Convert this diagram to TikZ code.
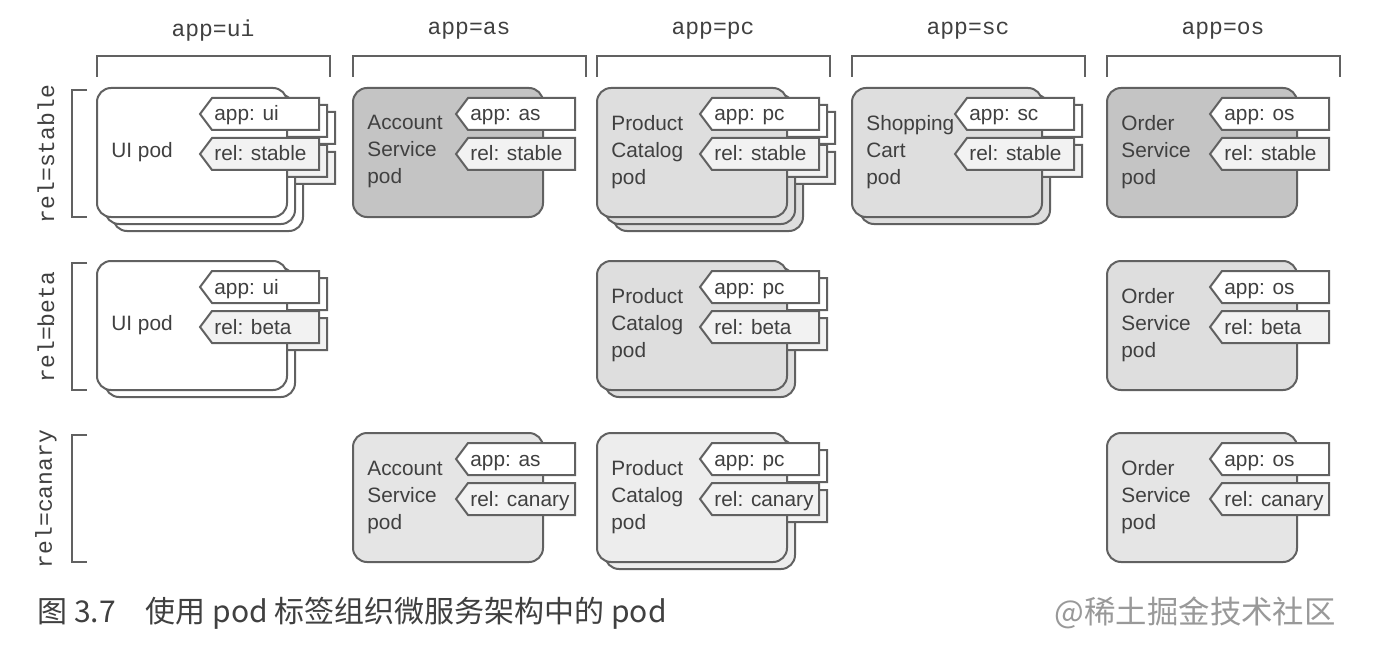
\documentclass[tikz,border=0pt]{standalone}
\usepackage{fontspec}
\setmainfont{Liberation Sans}
\setmonofont{Liberation Mono}
\newfontfamily\cjk{Noto Sans CJK SC}

\definecolor{edge}{gray}{0.38}
\definecolor{ink}{gray}{0.25}
\definecolor{darkpod}{gray}{0.77}
\definecolor{midpod}{gray}{0.87}
\definecolor{lightpod}{gray}{0.90}
\definecolor{palepod}{gray}{0.93}
\definecolor{reltag}{gray}{0.95}

\tikzset{
  podcard/.style={draw=edge, line width=1pt, rounded corners=7pt},
  tagbox/.style={draw=edge, line width=1pt, line join=miter},
  podtext/.style={anchor=west, align=left, inner sep=0pt, text=ink,
    font=\fontsize{10.4}{13.5}\selectfont},
  tagtext/.style={anchor=base west, inner sep=0pt, text=ink,
    font=\fontsize{10.4}{12}\selectfont},
  hdr/.style={text=ink, font=\ttfamily\fontsize{11.5}{13}\selectfont},
  bracket/.style={draw=edge, line width=1pt}
}

% #1 name, #2 left, #3 top, #4 fill, #5 copies, #6 text, #7 app tag, #8 rel tag
\newcommand{\pod}[8]{%
  \foreach \k in {#5} {
    \begin{scope}[shift={(\k*8,\k*7)}]
      \draw[podcard, fill=#4] (#2,#3) rectangle ++(190,129);
      \draw[tagbox, fill=white] (#2+103,#3+26) -- (#2+115,#3+10) -- (#2+222,#3+10)
        -- (#2+222,#3+42) -- (#2+115,#3+42) -- cycle;
      \draw[tagbox, fill=reltag] (#2+103,#3+66) -- (#2+115,#3+50) -- (#2+222,#3+50)
        -- (#2+222,#3+82) -- (#2+115,#3+82) -- cycle;
    \end{scope}
  }
  \node[podtext] (#1) at (#2+14,#3+64) {#6};
  \node[tagtext] (#1-app) at (#2+117,#3+33) {#7};
  \node[tagtext] (#1-rel) at (#2+117,#3+73) {#8};
}

\begin{document}
\begin{tikzpicture}[x=0.5pt, y=-0.5pt]
  \useasboundingbox (0,0) rectangle (1400,652);
  \fill[white] (0,0) rectangle (1400,652);

  % column brackets
  \foreach \lx/\app in {97/ui, 353/as, 597/pc, 852/sc, 1107/os} {
    \draw[bracket] (\lx,77) -- (\lx,56) -- (\lx+233,56) -- (\lx+233,77);
    \node[hdr] (hdr-\app) at (\lx+116,31) {app=\app};
  }

  % row brackets
  \foreach \ty/\rel in {88/stable, 261/beta, 433/canary} {
    \draw[bracket] (87,\ty+2) -- (72,\ty+2) -- (72,\ty+129) -- (87,\ty+129);
    \node[hdr, rotate=90] (row-\rel) at (46,\ty+66) {rel=\rel};
  }

  % stable
  \pod{uis}{97}{88}{white}{2,1,0}{UI pod}{app: ui}{rel: stable}
  \pod{ass}{353}{88}{darkpod}{0}{Account\\Service\\pod}{app: as}{rel: stable}
  \pod{pcs}{597}{88}{midpod}{2,1,0}{Product\\Catalog\\pod}{app: pc}{rel: stable}
  \pod{scs}{852}{88}{midpod}{1,0}{Shopping\\Cart\\pod}{app: sc}{rel: stable}
  \pod{oss}{1107}{88}{darkpod}{0}{Order\\Service\\pod}{app: os}{rel: stable}

  % beta
  \pod{uib}{97}{261}{white}{1,0}{UI pod}{app: ui}{rel: beta}
  \pod{pcb}{597}{261}{midpod}{1,0}{Product\\Catalog\\pod}{app: pc}{rel: beta}
  \pod{osb}{1107}{261}{midpod}{0}{Order\\Service\\pod}{app: os}{rel: beta}

  % canary
  \pod{asc}{353}{433}{lightpod}{0}{Account\\Service\\pod}{app: as}{rel: canary}
  \pod{pcc}{597}{433}{palepod}{1,0}{Product\\Catalog\\pod}{app: pc}{rel: canary}
  \pod{osc}{1107}{433}{lightpod}{0}{Order\\Service\\pod}{app: os}{rel: canary}

  \node[anchor=west, inner sep=0pt, text=ink, font=\cjk\fontsize{15}{17}\selectfont]
    (caption) at (37,613) {图 3.7\hspace{1em}使用 pod 标签组织微服务架构中的 pod};
  \node[anchor=east, inner sep=0pt, text=black!40, font=\cjk\fontsize{15.7}{18}\selectfont]
    (mark) at (1336,613) {@稀土掘金技术社区};
\end{tikzpicture}
\end{document}
